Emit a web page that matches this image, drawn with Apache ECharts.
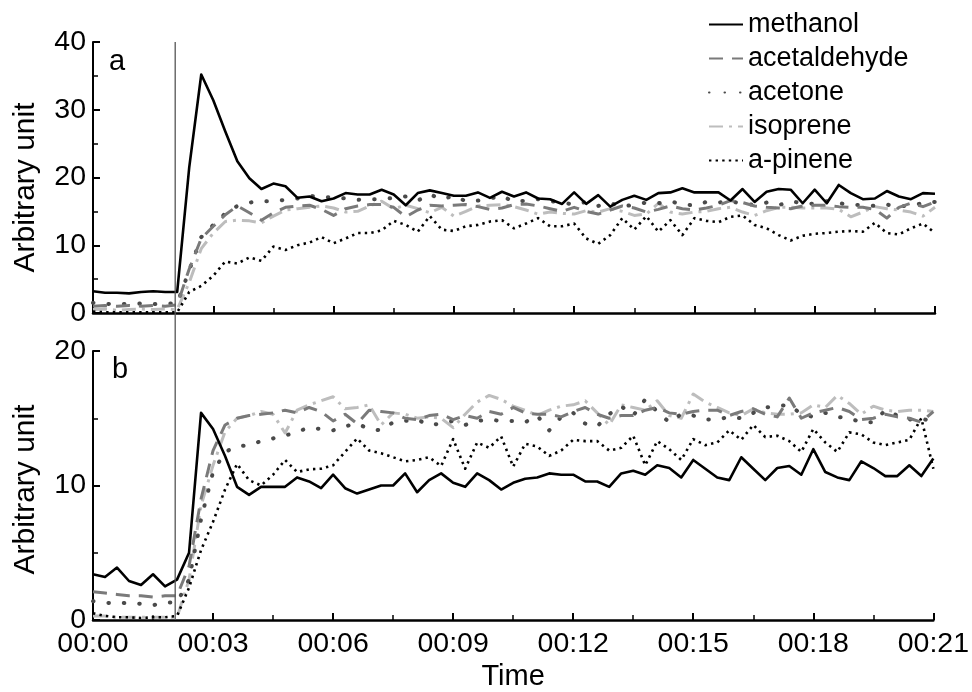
<!DOCTYPE html>
<html>
<head>
<meta charset="utf-8">
<script src="https://cdn.jsdelivr.net/npm/echarts@6/dist/echarts.min.js"></script>
<style>
html,body{margin:0;padding:0;background:#fff;}
#c{width:972px;height:692px;}
</style>
</head>
<body>
<div id="c"></div>
<script>
// sampling times (minutes)
const times = [0,0.3,0.6,0.9,1.2,1.5,1.8,2.1,2.4,2.7,3.0,3.3,3.6,3.9,4.2,4.5,4.8,5.1,5.4,5.7,6.0,6.3,6.6,6.9,7.2,7.5,7.8,8.1,8.4,8.7,9.0,9.3,9.6,9.9,10.2,10.5,10.8,11.1,11.4,11.7,12.0,12.3,12.6,12.9,13.2,13.5,13.8,14.1,14.4,14.7,15.0,15.3,15.6,15.9,16.2,16.5,16.8,17.1,17.4,17.7,18.0,18.3,18.6,18.9,19.2,19.5,19.8,20.1,20.4,20.7,21.0];
const seriesNames = ['methanol','acetaldehyde','acetone','isoprene','a-pinene'];
const xTickLabels = ['00:00','00:03','00:06','00:09','00:12','00:15','00:18','00:21'];
const switchTime = 2.05;

// panel a
const methanolA = [3.2,3.0,3.0,2.9,3.1,3.2,3.1,3.1, 21.5,35.2,31.4,26.8,22.4,19.9,18.3,19.1, 18.7,17.0,17.2,16.5,16.9,17.7,17.5,17.5, 18.2,17.5,15.9,17.7,18.1,17.7,17.3,17.3, 17.8,17.0,17.9,17.2,17.8,16.9,16.8,16.1, 17.8,16.1,17.4,15.7,16.7,17.3,16.7,17.7, 17.8,18.4,17.8,17.8,17.8,16.6,18.3,16.4, 17.9,18.3,18.2,16.2,18.2,16.2,18.9,17.7, 16.8,16.9,18.0,17.2,16.8,17.7,17.6];
const acetaldehydeA = [1.0,1.1,1.0,1.1,1.0,1.1,1.0,1.2, 6.5,11.0,12.8,14.5,15.8,14.8,13.7,14.8, 15.6,15.8,15.9,15.3,14.4,15.4,15.8,16.0, 16.0,15.6,14.2,15.2,15.9,15.8,15.9,16.0, 15.7,15.3,15.5,16.0,16.1,15.8,15.4,15.0, 15.6,15.0,14.6,15.2,15.8,15.5,14.9,15.3, 15.8,15.4,15.2,15.5,15.9,16.6,16.3,15.8, 15.6,15.5,15.4,15.8,15.9,15.9,15.7,15.6, 15.6,15.3,14.0,15.6,16.2,15.7,16.4];
const acetoneA = [1.5,1.3,1.4,1.3,1.4,1.3,1.4,1.4, 6.3,11.2,13.0,14.7,15.8,16.3,16.5,16.5, 16.7,16.9,17.3,17.1,17.1,16.9,16.7,16.8, 16.8,17.0,17.2,16.6,17.5,16.8,17.3,16.5, 16.6,16.9,17.3,16.4,16.6,16.8,16.5,16.3, 16.0,16.4,15.8,16.2,15.7,16.0,16.3,16.2, 16.5,16.0,15.9,16.4,16.3,16.5,16.1,16.0, 16.3,15.9,16.5,16.2,16.1,16.5,16.2,16.0, 15.9,15.8,16.0,15.7,15.9,16.2,16.4];
const isopreneA = [0.5,0.6,0.4,0.5,0.6,0.5,0.6,0.5, 4.5,9.5,11.8,13.5,13.7,13.6,13.3,14.3, 15.2,15.4,15.6,15.8,15.5,14.9,15.0,15.8, 16.5,15.4,15.9,15.4,14.8,15.6,14.3,15.0, 15.8,15.9,16.0,15.7,15.2,14.6,14.9,14.7, 14.6,15.1,14.9,15.4,15.0,14.4,14.6,16.2, 14.9,14.6,14.9,15.0,15.4,15.6,14.9,14.4, 15.1,15.6,15.6,15.5,15.5,15.5,15.3,14.2, 14.9,15.7,15.4,15.2,14.9,14.3,15.6];
const apineneA = [0.2,0.1,0.1,0.1,0.1,0.1,0.1,0.1, 3.1,4.0,5.5,7.6,7.3,8.2,7.7,9.8, 9.3,10.0,10.4,11.2,10.3,11.0,11.8,11.8, 12.2,13.6,13.0,12.0,14.3,12.3,12.1,12.8, 13.0,13.5,13.7,12.5,13.2,14.0,12.8,12.8, 13.2,11.0,10.2,11.5,14.0,12.3,14.3,12.0, 13.7,11.5,14.0,13.6,13.4,14.2,14.4,13.0, 12.5,11.5,10.7,11.4,11.7,11.8,12.0,12.1, 12.0,13.3,11.8,11.6,12.5,13.2,11.8];

// panel b
const methanolB = [3.4,3.2,3.9,2.9,2.6,3.4,2.5,3.0, 5.0,15.4,14.2,12.2,9.9,9.3,9.9,9.9, 9.9,10.6,10.3,9.8,10.8,9.8,9.4,9.7, 10.0,10.0,10.9,9.5,10.4,10.9,10.2,9.9, 10.9,10.4,9.7,10.2,10.5,10.6,10.9,10.8, 10.8,10.3,10.3,9.9,10.9,11.1,10.8,11.5, 11.3,10.6,11.9,11.25,10.6,10.4,12.1,11.25, 10.4,11.3,11.45,10.8,12.7,11.0,10.6,10.4, 11.8,11.3,10.7,10.7,11.5,10.7,12.0];
const acetaldehydeB = [2.1,2.0,1.9,1.8,1.8,1.7,1.8,1.8, 4.0,9.0,12.6,14.5,15.0,15.2,15.3,15.4, 15.6,15.4,15.8,15.5,14.8,15.3,14.6,15.6, 15.5,15.4,15.0,14.9,15.2,15.3,14.9,15.2, 15.0,15.5,15.3,15.8,15.4,15.3,15.3,15.1, 15.5,15.8,15.3,15.0,15.2,15.2,15.6,15.8, 15.4,15.3,15.5,15.6,15.6,15.2,15.5,15.7, 15.3,15.1,16.5,15.0,15.4,15.6,15.8,15.5, 14.9,15.0,15.3,15.1,15.0,14.7,15.5];
const acetoneB = [1.4,1.3,1.2,1.3,1.2,1.1,1.3,1.3, 3.0,7.5,11.0,12.5,12.9,13.0,13.3,13.5, 13.7,14.0,14.3,14.2,14.1,14.4,14.6,14.2, 14.1,14.7,14.8,14.9,14.5,14.6,14.8,14.5, 14.8,14.9,14.8,14.8,14.7,15.2,14.1,15.1, 15.4,14.6,14.4,15.3,15.9,15.2,16.4,15.5, 14.7,15.3,15.2,14.9,14.9,15.1,15.0,15.4, 15.8,15.9,16.0,15.3,15.1,15.4,15.1,15.0, 14.7,14.7,15.6,15.2,14.9,15.0,14.7];
const isopreneB = [0.3,0.3,0.2,0.2,0.2,0.2,0.2,0.2, 3.0,8.5,11.5,14.0,15.0,15.2,15.5,15.3, 13.9,15.6,16.0,16.3,16.6,15.7,15.8,16.0, 14.5,15.4,15.3,15.0,15.1,15.0,14.3,15.3, 16.2,16.7,16.4,15.9,15.6,15.2,15.6,15.9, 16.0,16.3,15.4,14.5,16.0,15.8,15.6,16.3, 15.2,15.0,16.8,16.2,15.8,15.4,15.2,15.7, 15.4,15.3,15.3,15.4,16.0,15.8,16.7,16.1, 15.3,15.9,15.6,15.5,15.6,15.6,15.5];
const apineneB = [0.5,0.3,0.2,0.2,0.15,0.2,0.2,0.3, 2.4,5.2,7.3,9.7,11.6,10.4,10.0,10.8, 11.9,11.0,11.2,11.25,11.5,12.5,13.5,12.6, 12.4,12.1,11.8,11.9,12.1,11.45,13.45,11.25, 13.2,12.8,13.65,11.4,13.1,12.9,12.2,12.6, 13.4,13.3,13.3,12.6,12.8,13.7,11.5,13.3, 12.7,11.9,13.45,13.0,13.2,14.1,13.4,14.5, 13.6,13.7,13.3,12.5,14.2,13.2,12.5,13.95, 13.8,13.2,13.0,13.2,13.4,15.0,11.25];

const FONT = "'Liberation Sans', Arial, sans-serif";
const styles = [
  {color:'#000000', width:2.6, type:'solid', cap:'butt', z:10},
  {color:'#7a7a7a', width:3, type:[14,9], cap:'butt', z:8},
  {color:'#4a4a4a', width:4, type:[0.5,15], cap:'round', z:7},
  {color:'#bdbdbd', width:3, type:[14,6,3,6], cap:'butt', z:6},
  {color:'#000000', width:2.6, type:[2.4,4.2], cap:'butt', z:9}
];
const panelData = [
  [methanolA, acetaldehydeA, acetoneA, isopreneA, apineneA],
  [methanolB, acetaldehydeB, acetoneB, isopreneB, apineneB]
];

const series = [];
panelData.forEach((arrs, p) => {
  arrs.forEach((vals, k) => {
    const st = styles[k];
    series.push({
      name: seriesNames[k],
      type: 'line',
      xAxisIndex: p, yAxisIndex: p,
      data: times.map((t, i) => [t, vals[i]]),
      symbol: 'none',
      showSymbol: false,
      animation: false,
      z: st.z,
      itemStyle: {color: st.color},
      lineStyle: {color: st.color, width: st.width, type: st.type, cap: st.cap, join: 'round'}
    });
  });
});

function xAxis(idx, showLabels) {
  return {
    type: 'value', gridIndex: idx, min: 0, max: 21, interval: 3,
    axisLine: {show: true, onZero: false, lineStyle: {color: '#000', width: 2.5}},
    axisTick: {show: true, inside: true, length: 7, lineStyle: {color: '#000', width: 2}},
    minorTick: {show: true, splitNumber: 2, length: 5, lineStyle: {color: '#000', width: 1.5}},
    splitLine: {show: false},
    minorSplitLine: {show: false},
    axisLabel: {
      show: showLabels, color: '#000', fontSize: 28.5, fontFamily: FONT, margin: 10,
      formatter: v => xTickLabels[Math.round(v / 3)] || ''
    },
    name: showLabels ? 'Time' : '',
    nameLocation: 'middle', nameGap: 42,
    nameTextStyle: {color: '#000', fontSize: 29, fontFamily: FONT}
  };
}
function yAxis(idx, max, shift) {
  return {
    type: 'value', gridIndex: idx, min: 0, max: max, interval: 10,
    axisLine: {show: true, lineStyle: {color: '#000', width: 2}},
    axisTick: {show: true, inside: true, length: 7, lineStyle: {color: '#000', width: 2}},
    minorTick: {show: true, splitNumber: 2, length: 5, lineStyle: {color: '#000', width: 1.5}},
    splitLine: {show: false},
    minorSplitLine: {show: false},
    axisLabel: {color: '#000', fontSize: 28.5, fontFamily: FONT, margin: 7},
    name: 'Arbitrary unit', nameLocation: 'middle', nameGap: 52,
    nameTextStyle: {color: '#000', fontSize: 30, fontFamily: FONT, padding: [0, shift, 0, 0]}
  };
}

const chart = echarts.init(document.getElementById('c'), null, {renderer: 'canvas'});
chart.setOption({
  animation: false,
  backgroundColor: '#ffffff',
  grid: [
    {left: 93, right: 37, top: 42, height: 271},
    {left: 93, right: 37, top: 351, height: 272}
  ],
  xAxis: [xAxis(0, false), xAxis(1, true)],
  yAxis: [yAxis(0, 40, 20), yAxis(1, 20, 8)],
  legend: {
    data: seriesNames,
    orient: 'vertical', left: 703, top: 6,
    itemWidth: 34, itemHeight: 14, itemGap: 7,
    itemStyle: {opacity: 0, borderWidth: 0},
    textStyle: {color: '#000', fontSize: 27, fontFamily: FONT},
    selectedMode: false
  },
  series: series
});

const px = chart.convertToPixel({xAxisIndex: 0}, switchTime);
const yTop = chart.convertToPixel({yAxisIndex: 0}, 40);
const yBot = chart.convertToPixel({yAxisIndex: 1}, 0);
chart.setOption({
  graphic: [
    {type: 'line', shape: {x1: px, y1: yTop, x2: px, y2: yBot}, style: {stroke: '#555', lineWidth: 1.3}, z: 20},
    {type: 'text', left: 109, top: 47, style: {text: 'a', fontSize: 29, fontFamily: FONT, fill: '#000'}},
    {type: 'text', left: 112, top: 355, style: {text: 'b', fontSize: 29, fontFamily: FONT, fill: '#000'}}
  ]
});
</script>
</body>
</html>
